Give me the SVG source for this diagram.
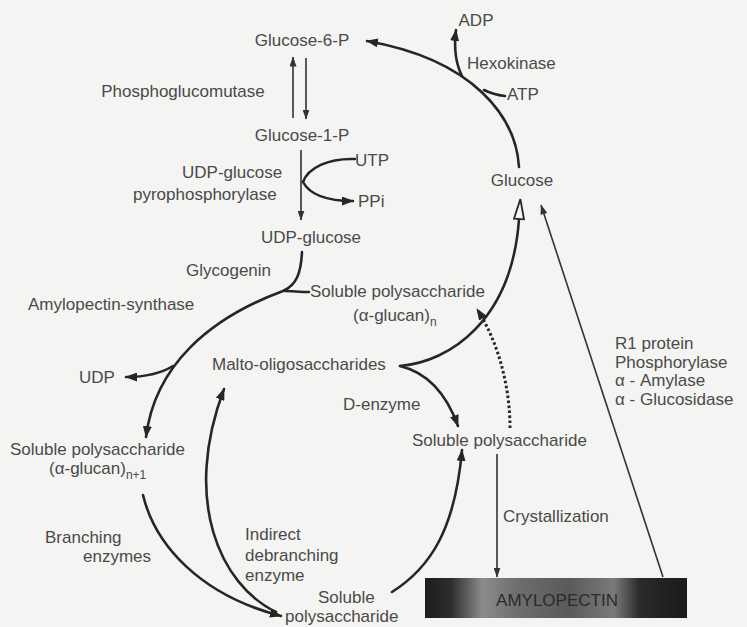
<svg xmlns="http://www.w3.org/2000/svg" width="747" height="627" viewBox="0 0 747 627">
<style>
text{font-family:"Liberation Sans",Arial,sans-serif;font-size:17px;fill:#4a4a4a}
.sub{font-size:12px}
.thick{fill:none;stroke:#262626;stroke-width:2.6;stroke-linecap:round}
.thin{fill:none;stroke:#333;stroke-width:1.6}
.dot{fill:none;stroke:#262626;stroke-width:3;stroke-dasharray:2.6 2.4}
</style>
<defs>
<marker id="ah" markerUnits="userSpaceOnUse" markerWidth="12" markerHeight="9" refX="11" refY="4.5" orient="auto"><path d="M0,0 L12,4.5 L0,9 z" fill="#262626"/></marker>
<marker id="ahs" markerUnits="userSpaceOnUse" markerWidth="10" markerHeight="7" refX="9.5" refY="3.5" orient="auto"><path d="M0,0 L10,3.5 L0,7 z" fill="#333"/></marker>
<marker id="open" markerUnits="userSpaceOnUse" markerWidth="24" markerHeight="14" refX="1" refY="6" orient="auto" overflow="visible"><path d="M1,1 L21,6 L1,11 z" fill="#f4f4f2" stroke="#262626" stroke-width="1.8" stroke-linejoin="miter"/></marker>
<linearGradient id="bar" x1="0" y1="0" x2="1" y2="0">
<stop offset="0" stop-color="#1c1c1c"/>
<stop offset="0.1" stop-color="#2e2e2e"/>
<stop offset="0.22" stop-color="#8c8c8c"/>
<stop offset="0.35" stop-color="#6e6e6e"/>
<stop offset="0.55" stop-color="#5a5a5a"/>
<stop offset="0.72" stop-color="#7a7a7a"/>
<stop offset="0.82" stop-color="#2a2a2a"/>
<stop offset="1" stop-color="#1a1a1a"/>
</linearGradient>
</defs>
<rect width="747" height="627" fill="#f4f4f2"/>

<g id="connectors">
<path class="thick" d="M519,167 C516,118 475,60 367,41" marker-end="url(#ah)"/>
<path class="thick" d="M462,76 C455,62 454,46 456,30" marker-end="url(#ah)"/>
<path class="thick" d="M505,96 C497,95 490,93 484,90"/>
<path class="thin" d="M293,118 L293,57" marker-end="url(#ahs)"/>
<path class="thin" d="M306,58 L306,119" marker-end="url(#ahs)"/>
<path class="thin" d="M301,150 L301,220" marker-end="url(#ahs)"/>
<path class="thick" d="M355,159 C328,158 308,168 303,182 C310,195 327,201 353,201" marker-end="url(#ah)"/>
<path class="thick" d="M302,252 C301,272 297,285 283,291 C210,318 155,365 146,437" marker-end="url(#ah)"/>
<path class="thick" d="M309,292 C300,292 292,291 285,291"/>
<path class="thick" d="M173,366 C160,374 145,377 126,377" marker-end="url(#ah)"/>
<path class="thick" d="M400,366 C450,362 512,320 519,219" marker-end="url(#open)"/>
<path class="thick" d="M400,366 C425,372 445,390 458,426" marker-end="url(#ah)"/>
<path class="dot" d="M510,428 C510,390 500,345 477,309" marker-end="url(#ah)"/>
<path class="thin" d="M663,577 L541,205" marker-end="url(#ahs)"/>
<path class="thin" d="M497,454 L497,577" marker-end="url(#ahs)"/>
<path class="thick" d="M392,592 C430,568 455,530 462,450" marker-end="url(#ah)"/>
<path class="thick" d="M143,495 C155,545 200,595 281,616" marker-end="url(#ah)"/>
<path class="thick" d="M276,612 C220,585 182,500 224,389" marker-end="url(#ah)"/>
</g>

<g id="glucose6p"><text x="302" y="46" text-anchor="middle">Glucose-6-P</text></g>
<g id="adp"><text x="476" y="26" text-anchor="middle">ADP</text></g>
<g id="hexokinase"><text x="467" y="69">Hexokinase</text></g>
<g id="atp"><text x="507" y="100">ATP</text></g>
<g id="glucose"><text x="522" y="186" text-anchor="middle">Glucose</text></g>
<g id="phosphoglucomutase"><text x="183" y="97" text-anchor="middle">Phosphoglucomutase</text></g>
<g id="glucose1p"><text x="302" y="141" text-anchor="middle">Glucose-1-P</text></g>
<g id="udpgp"><text x="182" y="178">UDP-glucose</text><text x="133" y="200">pyrophosphorylase</text></g>
<g id="utp"><text x="355" y="166">UTP</text></g>
<g id="ppi"><text x="358" y="207">PPi</text></g>
<g id="udpglucose"><text x="311" y="243" text-anchor="middle">UDP-glucose</text></g>
<g id="glycogenin"><text x="186" y="276">Glycogenin</text></g>
<g id="amylopectinsynthase"><text x="28" y="310">Amylopectin-synthase</text></g>
<g id="solublen"><text x="310" y="297">Soluble polysaccharide</text><text x="353" y="321">(α-glucan)<tspan class="sub" dy="5">n</tspan></text></g>
<g id="malto"><text x="212" y="370">Malto-oligosaccharides</text></g>
<g id="udp"><text x="79" y="383">UDP</text></g>
<g id="denzyme"><text x="343" y="410">D-enzyme</text></g>
<g id="solubleright"><text x="412" y="446">Soluble polysaccharide</text></g>
<g id="enzymes"><text x="615" y="349">R1 protein</text><text x="615" y="368">Phosphorylase</text><text x="615" y="386">α - Amylase</text><text x="615" y="405">α - Glucosidase</text></g>
<g id="solublen1"><text x="10" y="455">Soluble polysaccharide</text><text x="49" y="474">(α-glucan)<tspan class="sub" dy="5">n+1</tspan></text></g>
<g id="branching"><text x="45" y="543">Branching</text><text x="83" y="562">enzymes</text></g>
<g id="debranching"><text x="245" y="540">Indirect</text><text x="245" y="561">debranching</text><text x="245" y="581">enzyme</text></g>
<g id="solublebottom"><text x="318" y="603">Soluble</text><text x="285" y="622">polysaccharide</text></g>
<g id="crystallization"><text x="503" y="522">Crystallization</text></g>
<g id="amylopectin"><rect x="425" y="578" width="262" height="40" fill="url(#bar)"/><text x="557" y="606" text-anchor="middle" style="fill:#2a2a2a">AMYLOPECTIN</text></g>
</svg>
